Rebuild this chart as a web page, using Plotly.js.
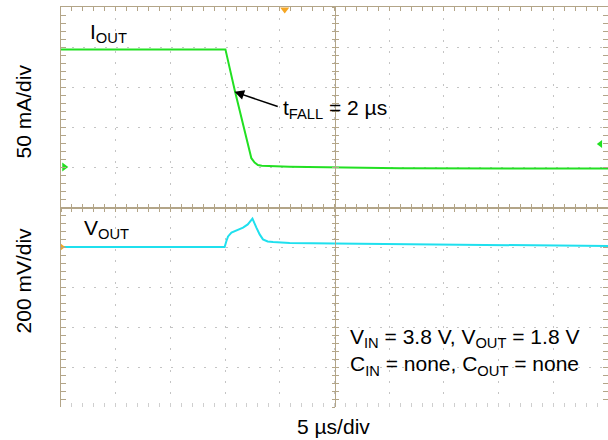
<!DOCTYPE html>
<html>
<head>
<meta charset="utf-8">
<script src="https://cdn.plot.ly/plotly-3.0.1.min.js"></script>
<style>html,body{margin:0;padding:0;background:#fff;}#chart{width:608px;height:440px;}</style>
</head>
<body>
<div id="chart"></div>
<script>
// Time axis (µs), 5 µs/div, 10 divisions
const timeRange = [0, 50];
// I_OUT trace (mA), 50 mA/div, ground marker at 6th division
const tIout = [0, 15.03, 15.88, 17.4, 17.7, 18.0, 18.35, 19.1, 20.9, 31, 50];
const iOut  = [147, 147, 96, 11, 5.5, 2.5, 1.5, 1.2, 0.4, -1.6, -1.9];
// V_OUT deviation (mV), 200 mV/div, reference at 4th division
const tVout = [0, 14.96, 15.12, 15.27, 15.58, 16.03, 16.64, 17.07, 17.5, 17.86, 18.16, 18.46, 18.89, 19.38, 20.9, 25, 35.5, 50];
const vOut  = [0, 0, 30, 53, 72, 83, 97, 113, 142, 97, 63, 38, 28, 25, 20, 17, 13, 5];
// Axis ranges
const iRange = [-300, 200];
const vRange = [-800, 1200];
// Scope channel markers
const markerIoutT = [0.3], markerIoutY = [0];
const markerVoutT = [0.1], markerVoutY = [0];
const trigT = [20.45], trigY = [197];
const trigLevelT = [49.3], trigLevelY = [28.75];

const tan = '#b3a588';
const dotGrey = '#c4c4c4';
const font = 'Liberation Sans, Arial, Helvetica, sans-serif';

// invisible traces that activate the decorative frame axes
const frameTrace = (xa, ya) => ({x: timeRange, y: iRange, type: 'scatter', mode: 'markers', xaxis: xa, yaxis: ya,
  marker: {opacity: 0, size: 1}, hoverinfo: 'skip', showlegend: false});

const traces = [
  frameTrace('x2', 'y'), frameTrace('x3', 'y'), frameTrace('x4', 'y'),
  frameTrace('x', 'y3'), frameTrace('x', 'y4'), frameTrace('x', 'y5'),
  {x: tIout, y: iOut, type: 'scatter', mode: 'lines', xaxis: 'x', yaxis: 'y',
   line: {color: '#22e022', width: 2}, hoverinfo: 'skip'},
  {x: tVout, y: vOut, type: 'scatter', mode: 'lines', xaxis: 'x', yaxis: 'y2',
   line: {color: '#1fe0ee', width: 2}, hoverinfo: 'skip'},
  {x: markerIoutT, y: markerIoutY, type: 'scatter', mode: 'markers', xaxis: 'x', yaxis: 'y',
   marker: {symbol: 'triangle-right', size: 8, color: '#22e022'}, cliponaxis: false},
  {x: markerVoutT, y: markerVoutY, type: 'scatter', mode: 'markers', xaxis: 'x', yaxis: 'y2',
   marker: {symbol: 'triangle-right', size: 6, color: '#f5a623'}, cliponaxis: false},
  {x: trigT, y: trigY, type: 'scatter', mode: 'markers', xaxis: 'x', yaxis: 'y',
   marker: {symbol: 'triangle-down', size: 8, color: '#f5a623'}, cliponaxis: false},
  {x: trigLevelT, y: trigLevelY, type: 'scatter', mode: 'markers', xaxis: 'x', yaxis: 'y',
   marker: {symbol: 'triangle-left', size: 7, color: '#22e022'}, cliponaxis: false}
];

const minorTicks = (len, color, ticks) => ({dtick: 1, ticks: ticks, ticklen: len, tickcolor: color, tickwidth: 1, showgrid: false});
const minorTicksY = (len, color, ticks) => ({dtick: 10, ticks: ticks, ticklen: len, tickcolor: color, tickwidth: 1, showgrid: false});

const layout = {
  width: 608, height: 440,
  margin: {l: 61, r: 0, t: 7, b: 33},
  paper_bgcolor: '#fff', plot_bgcolor: '#fff',
  showlegend: false,
  font: {family: font, size: 21, color: '#000'},
  xaxis: {range: timeRange, dtick: 5, showticklabels: false, showline: false, zeroline: false,
          showgrid: true, gridcolor: dotGrey, griddash: '2px,9px', gridwidth: 1,
          ticks: 'inside', ticklen: 4, tickcolor: '#cfcfcf', minor: minorTicks(4, '#cfcfcf', 'inside')},
  xaxis2: {range: timeRange, dtick: 5, overlaying: 'x', side: 'top', anchor: 'y', showticklabels: false,
           showline: true, linecolor: tan, linewidth: 1.5, showgrid: false, zeroline: false,
           ticks: 'inside', ticklen: 4, tickcolor: tan, minor: minorTicks(4, tan, 'inside')},
  xaxis3: {range: timeRange, dtick: 5, overlaying: 'x', anchor: 'free', position: 0.5, showticklabels: false,
           showline: true, linecolor: tan, linewidth: 1.5, showgrid: false, zeroline: false,
           ticks: 'outside', ticklen: 3, tickcolor: tan, minor: minorTicks(3, tan, 'outside')},
  xaxis4: {range: timeRange, dtick: 5, overlaying: 'x', anchor: 'free', position: 0.5, showticklabels: false,
           showline: false, showgrid: false, zeroline: false,
           ticks: 'inside', ticklen: 3, tickcolor: tan, minor: minorTicks(3, tan, 'inside')},
  yaxis: {range: iRange, dtick: 50, showticklabels: false, showline: true, linecolor: tan, linewidth: 1.5,
          zeroline: false, showgrid: true, gridcolor: dotGrey, griddash: '2px,9px', gridwidth: 1,
          ticks: 'inside', ticklen: 5, tickcolor: tan, minor: minorTicksY(5, tan, 'inside')},
  yaxis2: {range: vRange, overlaying: 'y', visible: false},
  yaxis3: {range: iRange, dtick: 50, overlaying: 'y', side: 'right', anchor: 'x', showticklabels: false,
           showline: false, showgrid: false, zeroline: false,
           ticks: 'inside', ticklen: 5, tickcolor: tan, minor: minorTicksY(5, tan, 'inside')},
  yaxis4: {range: iRange, dtick: 50, overlaying: 'y', anchor: 'free', position: 0.5, showticklabels: false,
           showline: true, linecolor: tan, linewidth: 1.5, showgrid: false, zeroline: false,
           ticks: 'outside', ticklen: 3, tickcolor: tan, minor: minorTicksY(3, tan, 'outside')},
  yaxis5: {range: iRange, dtick: 50, overlaying: 'y', anchor: 'free', position: 0.5, showticklabels: false,
           showline: false, showgrid: false, zeroline: false,
           ticks: 'inside', ticklen: 3, tickcolor: tan, minor: minorTicksY(3, tan, 'inside')},
  annotations: [
    {xref: 'paper', yref: 'paper', x: -0.0686, y: 0.74, text: '50 mA/div', textangle: -90,
     showarrow: false, xanchor: 'center', yanchor: 'middle'},
    {xref: 'paper', yref: 'paper', x: -0.0686, y: 0.3175, text: '200 mV/div', textangle: -90,
     showarrow: false, xanchor: 'center', yanchor: 'middle'},
    {xref: 'paper', yref: 'paper', x: 0.499, y: -0.0475, text: '5 µs/div',
     showarrow: false, xanchor: 'center', yanchor: 'middle'},
    {xref: 'x', yref: 'y', x: 2.5, y: 167.5, text: 'I<sub>OUT</sub>',
     showarrow: false, xanchor: 'left', yanchor: 'middle'},
    {xref: 'x', yref: 'y2', x: 1.95, y: 88.5, text: 'V<sub>OUT</sub>',
     showarrow: false, xanchor: 'left', yanchor: 'middle'},
    {xref: 'x', yref: 'y', x: 20.1, y: 72.5, text: 't<sub>FALL</sub> = 2 µs',
     showarrow: false, xanchor: 'left', yanchor: 'middle'},
    {xref: 'x', yref: 'y', x: 15.85, y: 94, axref: 'x', ayref: 'y', ax: 19.95, ay: 75, text: '',
     showarrow: true, arrowhead: 2, arrowsize: 1.3, arrowwidth: 1.5, arrowcolor: '#000', standoff: 0},
    {xref: 'x', yref: 'y2', x: 26.25, y: -526, text: 'V<sub>IN</sub> = 3.8 V, V<sub>OUT</sub> = 1.8 V<br>C<sub>IN</sub> = none, C<sub>OUT</sub> = none',
     showarrow: false, xanchor: 'left', yanchor: 'middle', align: 'left'}
  ]
};

Plotly.newPlot('chart', traces, layout, {staticPlot: true, displayModeBar: false});
</script>
</body>
</html>
